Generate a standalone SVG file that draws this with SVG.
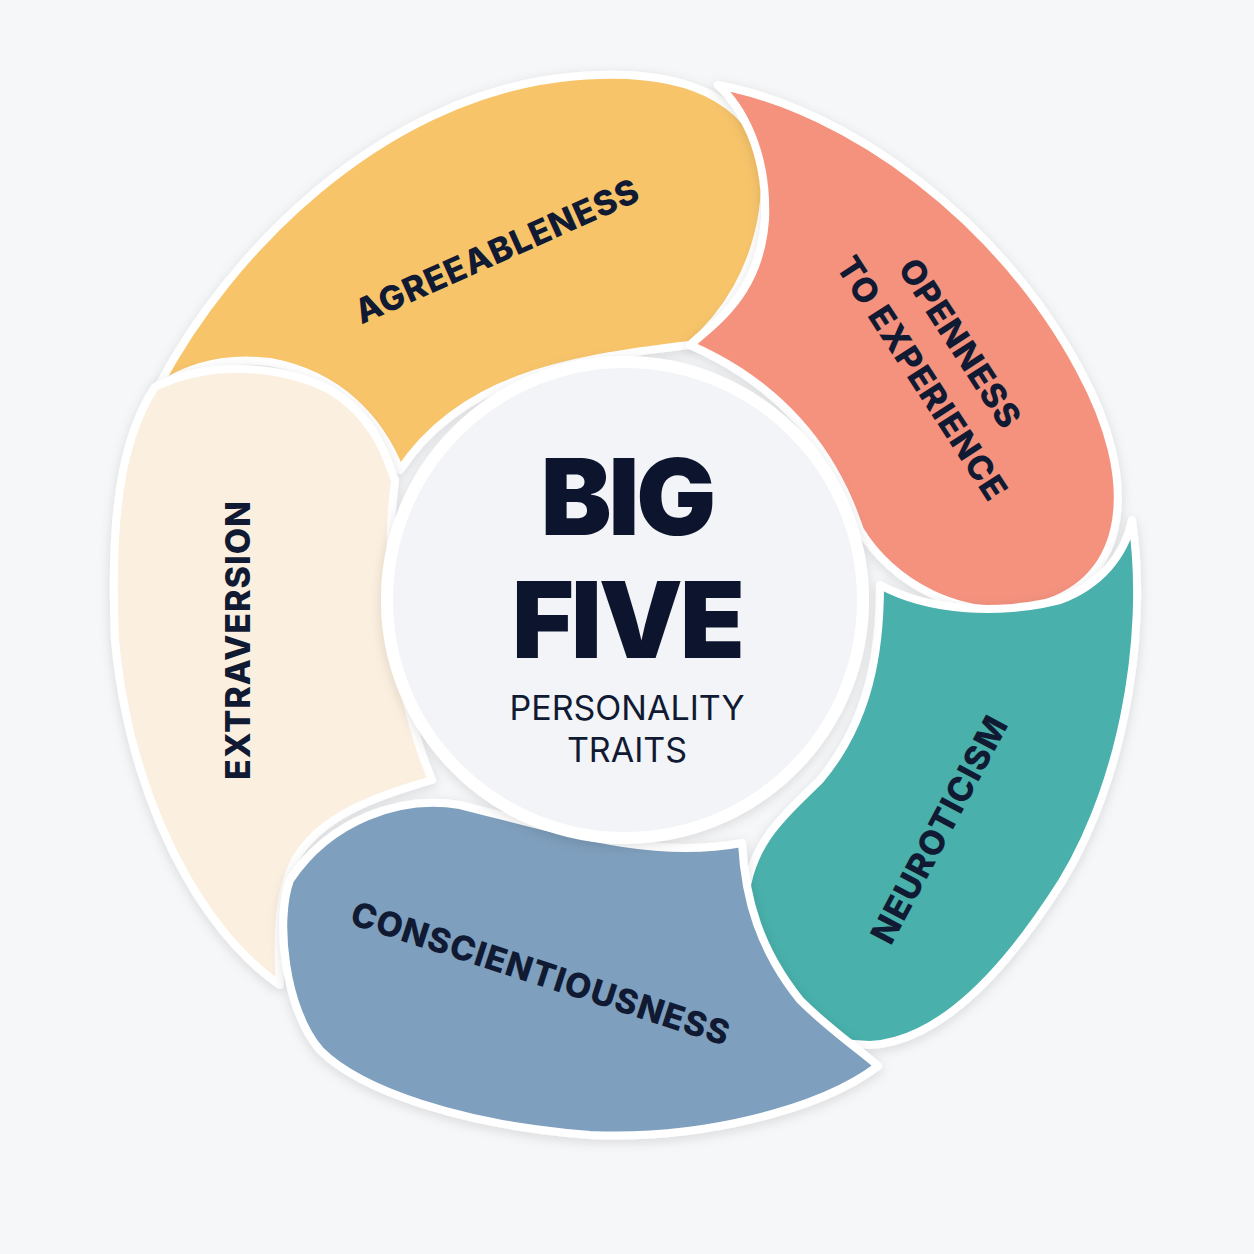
<svg xmlns="http://www.w3.org/2000/svg" width="1254" height="1254" viewBox="0 0 1254 1254">
<style>
.p{stroke:#fff;stroke-width:8;stroke-linejoin:round}
.lab{font-family:"Inter","Open Sans",sans-serif;font-weight:800;fill:#101a33;font-size:34px;text-anchor:middle;letter-spacing:1px}
.big{font-family:"Inter","Open Sans",sans-serif;font-weight:900;fill:#0c152d;font-size:106px;text-anchor:middle;letter-spacing:-3px}
.sub{font-family:"Inter","Open Sans",sans-serif;font-weight:400;fill:#101a33;font-size:34px;text-anchor:middle}
</style>
<defs>
<filter id="sh" x="-20%" y="-20%" width="140%" height="140%"><feDropShadow dx="0" dy="3" stdDeviation="6" flood-color="#000" flood-opacity="0.12"/></filter>
</defs>
<rect width="1254" height="1254" fill="#f6f7f9"/>
<g id="agreeableness">
<path class="p" fill="#f7c46a" filter="url(#sh)" d="M158,387 C230,250 380,100 560,78 C700,62 770,110 765,190 C760,270 720,320 690,345 C560,360 460,380 400,470 C380,420 340,375 270,362 C215,355 180,372 158,387 Z"/>
<text class="lab" transform="translate(502,262) rotate(-24)">AGREEABLENESS</text>
</g>
<g id="openness">
<path class="p" fill="#f4927e" filter="url(#sh)" d="M718,85 C850,110 1000,220 1080,370 C1140,480 1130,580 1040,605 C960,625 890,580 860,530 C830,440 770,380 690,345 C720,320 760,290 765,220 C768,150 740,105 718,85 Z"/>
<text class="lab" transform="translate(950,350) rotate(57)">OPENNESS</text>
<text class="lab" transform="translate(912,385) rotate(57)">TO EXPERIENCE</text>
</g>
<g id="neuroticism">
<path class="p" fill="#48b0ab" filter="url(#sh)" d="M1132,520 C1150,640 1120,800 1050,900 C990,990 930,1042 870,1045 C790,1045 740,980 745,900 C750,840 790,810 820,780 C870,720 880,650 880,585 C930,612 1000,615 1060,600 C1100,585 1125,555 1132,520 Z"/>
<text class="lab" transform="translate(950,835) rotate(-62)">NEUROTICISM</text>
</g>
<g id="extraversion">
<path class="p" fill="#fbefdf" filter="url(#sh)" d="M155,387 C210,360 280,365 330,390 C380,420 390,470 395,480 C385,560 390,680 432,780 C380,795 320,815 295,860 C275,900 278,950 280,985 C200,930 130,800 115,640 C110,520 120,440 155,387 Z"/>
<text class="lab" transform="translate(250,640) rotate(-90)">EXTRAVERSION</text>
</g>
<g id="conscientiousness">
<path class="p" fill="#7e9fbd" filter="url(#sh)" d="M290,880 C330,820 400,795 460,805 C560,830 650,860 742,843 C745,900 760,950 800,1000 C830,1030 860,1050 878,1066 C820,1110 700,1140 590,1135 C460,1125 360,1090 320,1050 C285,1010 275,920 290,880 Z"/>
<text class="lab" transform="translate(537,985) rotate(18)">CONSCIENTIOUSNESS</text>
</g>
<g id="center">
<circle cx="625" cy="600" r="238" fill="#f3f4f7" stroke="#fff" stroke-width="12" filter="url(#sh)"/>
<text class="big" x="627" y="535">BIG</text>
<text class="big" x="627" y="658">FIVE</text>
<text class="sub" x="627" y="720">PERSONALITY</text>
<text class="sub" x="627" y="762">TRAITS</text>
</g>
</svg>
